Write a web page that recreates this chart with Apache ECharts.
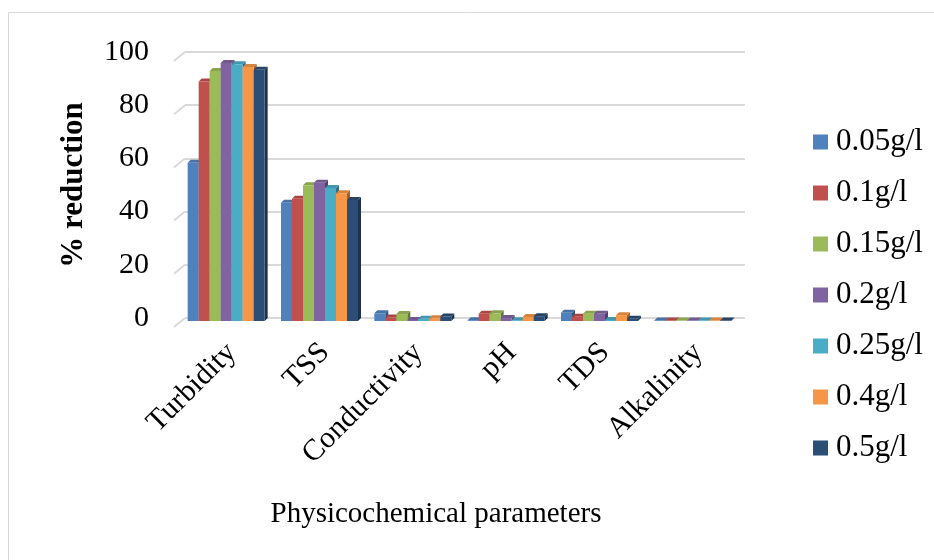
<!DOCTYPE html>
<html>
<head>
<meta charset="utf-8">
<script src="https://cdn.jsdelivr.net/npm/echarts@6/dist/echarts.min.js"></script>
<style>
  html, body { margin: 0; padding: 0; background: #fff; }
  #chart { width: 934px; height: 560px; }
</style>
</head>
<body>
<div id="chart"></div>
<script>
// Parameters measured after treatment
const categories = ['Turbidity', 'TSS', 'Conductivity', 'pH', 'TDS', 'Alkalinity'];

// % reduction for each coagulant dose
const dose005 = [59.5, 44.5, 2.9, 0.3, 3.1, 0.2];
const dose01  = [90.0, 46.0, 1.3, 2.7, 1.6, 0.2];
const dose015 = [94.0, 51.0, 2.6, 2.9, 2.7, 0.2];
const dose02  = [97.0, 52.0, 0.4, 1.1, 2.7, 0.2];
const dose025 = [96.5, 50.0, 0.8, 0.3, 0.4, 0.2];
const dose04  = [95.5, 48.0, 1.0, 1.5, 2.2, 0.2];
const dose05  = [94.5, 45.5, 1.7, 1.8, 0.8, 0.2];

const seriesNames = ['0.05g/l', '0.1g/l', '0.15g/l', '0.2g/l', '0.25g/l', '0.4g/l', '0.5g/l'];
const seriesValues = [dose005, dose01, dose015, dose02, dose025, dose04, dose05];
const yTicks = [0, 20, 40, 60, 80, 100];

const colors = ['#4F81BD', '#C0504D', '#9BBB59', '#8064A2', '#4BACC6', '#F79646', '#2C4D75'];
const FONT = '"Liberation Serif", "Times New Roman", serif';
const DEPTH = 3;

function shade(hex, f) {
  const n = parseInt(hex.slice(1), 16);
  const r = (n >> 16) & 255, g = (n >> 8) & 255, b = n & 255;
  const m = v => Math.max(0, Math.min(255, Math.round(f < 0 ? v * (1 + f) : v + (255 - v) * f)));
  return 'rgb(' + m(r) + ',' + m(g) + ',' + m(b) + ')';
}

// Box-shaped column: the back edge sits on the value, the front face is pulled down-left
function makeRender(k) {
  const BAR_W = 11;
  return function (params, api) {
    const c = api.value(0), v = api.value(1);
    const base = api.coord([c, 0]);
    const top = api.coord([c, v]);
    const x0 = base[0] - 44 + k * BAR_W;
    const yb = base[1] + DEPTH, yt = top[1] + DEPTH;
    const col = colors[k];
    return {
      type: 'group',
      children: [
        { type: 'polygon', shape: { points: [[x0 + BAR_W, yt], [x0 + BAR_W + DEPTH, yt - DEPTH], [x0 + BAR_W + DEPTH, yb - DEPTH], [x0 + BAR_W, yb]] },
          style: { fill: shade(col, -0.35) } },
        { type: 'polygon', shape: { points: [[x0, yt], [x0 + DEPTH, yt - DEPTH], [x0 + BAR_W + DEPTH, yt - DEPTH], [x0 + BAR_W, yt]] },
          style: { fill: shade(col, -0.12) } },
        { type: 'rect', shape: { x: x0, y: yt, width: BAR_W, height: yb - yt },
          style: { fill: col } }
      ]
    };
  };
}

// Short slanted strokes on the side wall where each gridline meets it
function renderWall(params, api) {
  const y = api.coord([0, api.value(0)])[1];
  const x = params.coordSys.x;
  return {
    type: 'line',
    shape: { x1: x - 11, y1: y + 9, x2: x, y2: y },
    style: { stroke: '#d9d9d9', lineWidth: 2 }
  };
}

const chart = echarts.init(document.getElementById('chart'));
chart.setOption({
  backgroundColor: '#fff',
  animation: false,
  textStyle: { fontFamily: FONT },
  graphic: [
    { type: 'polyline', shape: { points: [[8.5, 560], [8.5, 12.5], [934, 12.5]] },
      style: { stroke: '#d9d9d9', lineWidth: 1, fill: null } }
  ],
  grid: { left: 185, right: 189, top: 52, bottom: 242, outerBoundsMode: 'none', containLabel: false },
  legend: {
    orient: 'vertical',
    left: 808,
    top: 121,
    icon: 'rect',
    itemWidth: 15,
    itemHeight: 15,
    itemGap: 19,
    textStyle: { fontFamily: FONT, fontSize: 31, color: '#000', lineHeight: 32, padding: [0, 0, 0, 3] },
    data: seriesNames
  },
  xAxis: {
    type: 'category',
    data: categories,
    name: 'Physicochemical parameters',
    nameLocation: 'middle',
    nameGap: 182,
    nameTextStyle: { fontFamily: FONT, fontSize: 29, color: '#000', padding: [0, 58, 0, 0] },
    axisLine: { show: false },
    axisTick: { show: false },
    axisLabel: { rotate: 45, margin: 30, fontFamily: FONT, fontSize: 30, color: '#000', interval: 0 }
  },
  yAxis: {
    type: 'value',
    min: yTicks[0],
    max: yTicks[yTicks.length - 1],
    interval: 20,
    name: '% reduction',
    nameLocation: 'middle',
    nameGap: 96,
    nameTextStyle: { fontFamily: FONT, fontSize: 31, fontWeight: 'bold', color: '#000' },
    axisLine: { show: false },
    axisTick: { show: false },
    axisLabel: { margin: 36, fontFamily: FONT, fontSize: 30, color: '#000', padding: [10, 0, 0, 0] },
    splitLine: { lineStyle: { color: '#d9d9d9', width: 2 } }
  },
  series: [{
    type: 'custom',
    silent: true,
    renderItem: renderWall,
    encode: { y: 0 },
    data: yTicks.map(v => [v])
  }].concat(seriesNames.map((name, k) => ({
    name: name,
    type: 'custom',
    itemStyle: { color: colors[k] },
    renderItem: makeRender(k),
    encode: { x: 0, y: 1 },
    data: categories.map((c, i) => [i, seriesValues[k][i]])
  })))
});
</script>
</body>
</html>
